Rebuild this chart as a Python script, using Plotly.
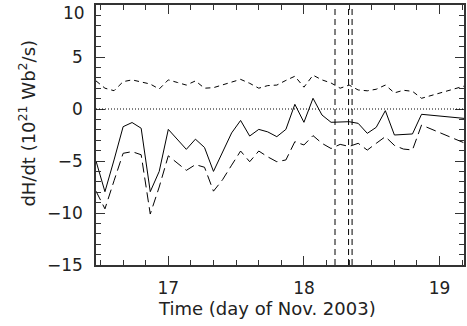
import plotly.graph_objects as go

# Time (day of Nov. 2003), 96-min cadence
times = [16.467, 16.533, 16.600, 16.667, 16.733, 16.800, 16.867, 16.933,
         17.000, 17.067, 17.133, 17.200, 17.267, 17.333, 17.400, 17.467,
         17.533, 17.600, 17.667, 17.733, 17.800, 17.867, 17.933, 18.000,
         18.067, 18.133, 18.200, 18.267, 18.333, 18.400, 18.467, 18.533,
         18.600, 18.667, 18.733, 18.800, 18.867, 19.180]

# net dH/dt (solid)
net = [-5.0, -7.95, -4.9, -1.7, -1.3, -1.85, -7.95, -6.0,
       -1.96, -2.9, -3.88, -2.9, -3.7, -6.0, -4.15, -2.3,
       -1.1, -2.6, -1.96, -2.2, -2.66, -1.96, 0.45, -1.28,
       1.03, -0.58, -1.28, -1.25, -1.22, -1.38, -2.34, -1.76,
       -0.16, -2.5, -2.45, -2.4, -0.51, -0.9]

# positive contribution (short dash)
positive = [2.7, 2.0, 1.76, 2.63, 2.8, 2.6, 2.4, 1.92,
            2.8, 2.55, 2.3, 2.7, 2.0, 2.05, 2.3, 2.6,
            2.85, 2.47, 2.0, 2.25, 2.3, 2.75, 3.15, 2.1,
            3.25, 2.8, 2.5, 2.0, 2.3, 1.83, 1.75, 1.9,
            2.3, 1.55, 1.8, 1.7, 1.03, 2.2]

# negative contribution (long dash)
negative = [-7.9, -9.6, -6.9, -4.26, -4.1, -4.4, -10.1, -7.5,
            -4.5, -5.2, -5.9, -5.35, -5.6, -7.9, -6.8, -5.4,
            -4.04, -5.07, -4.04, -4.6, -5.07, -4.9, -3.14, -3.46,
            -2.56, -3.3, -3.8, -3.4, -3.6, -3.3, -3.95, -3.3,
            -2.66, -3.5, -3.85, -3.94, -1.54, -3.25]

event_times = [18.229, 18.329, 18.355]
x_ticks = [17, 18, 19]
x_tick_labels = ["17", "18", "19"]
y_ticks = [-15, -10, -5, 0, 5, 10]
y_tick_labels = ["\u221215", "\u221210", "\u22125", "0", "5", ""]
y_top_label = "10"
x_title = "Time (day of Nov. 2003)"
y_title = "dH/dt (10<sup>21</sup> Wb<sup>2</sup>/s)"

FONT = "DejaVu Sans"
TXT = "#222222"
AX = "#333333"

fig = go.Figure()
fig.add_trace(go.Scatter(x=times, y=positive, mode="lines",
                         line=dict(color="black", width=1, dash="5px,4px")))
fig.add_trace(go.Scatter(x=times, y=net, mode="lines",
                         line=dict(color="black", width=1)))
fig.add_trace(go.Scatter(x=times, y=negative, mode="lines",
                         line=dict(color="black", width=1, dash="10px,5px")))

fig.add_shape(type="line", xref="paper", yref="y", x0=0, x1=1, y0=0, y1=0,
              line=dict(color="black", width=1, dash="1px,2px"))
for t in event_times:
    fig.add_shape(type="line", xref="x", yref="paper", x0=t, x1=t, y0=0, y1=1,
                  line=dict(color="black", width=1, dash="6px,4px"))

# the top label sits a little below its tick in the reference
fig.add_annotation(x=0, xref="paper", y=y_ticks[-1], yref="y", text=y_top_label,
                   showarrow=False, xanchor="right", yanchor="middle",
                   xshift=-9, yshift=-8,
                   font=dict(family=FONT, size=17, color=TXT))
# axis titles
fig.add_annotation(x=0.465, xref="paper", y=-0.167, yref="paper", text=x_title,
                   showarrow=False, xanchor="center", yanchor="middle",
                   font=dict(family=FONT, size=18, color=TXT))
fig.add_annotation(x=-0.186, xref="paper", y=0.546, yref="paper", text=y_title,
                   showarrow=False, xanchor="center", yanchor="middle", textangle=-90,
                   font=dict(family=FONT, size=18, color=TXT))

axis_common = dict(showgrid=False, zeroline=False, showline=True,
                   linecolor=AX, linewidth=1.5, mirror="allticks",
                   ticks="inside", ticklen=9, tickwidth=1, tickcolor=AX,
                   tickfont=dict(family=FONT, size=17, color=TXT))

fig.update_xaxes(range=[16.467, 19.18], tickvals=x_ticks, ticktext=x_tick_labels,
                 minor=dict(ticks="inside", ticklen=5, tick0=17, dtick=1/6,
                            tickcolor=AX, tickwidth=1),
                 ticklabelstandoff=7,
                 **axis_common)
fig.update_yaxes(range=[-15, 10], tickvals=y_ticks, ticktext=y_tick_labels,
                 minor=dict(ticks="inside", ticklen=5, tick0=0, dtick=1,
                            tickcolor=AX, tickwidth=1),
                 ticklabelstandoff=8,
                 **axis_common)

fig.update_layout(width=467, height=326, showlegend=False,
                  margin=dict(l=96, r=1, t=5, b=61),
                  paper_bgcolor="white", plot_bgcolor="white")

fig.write_html("out.html")
